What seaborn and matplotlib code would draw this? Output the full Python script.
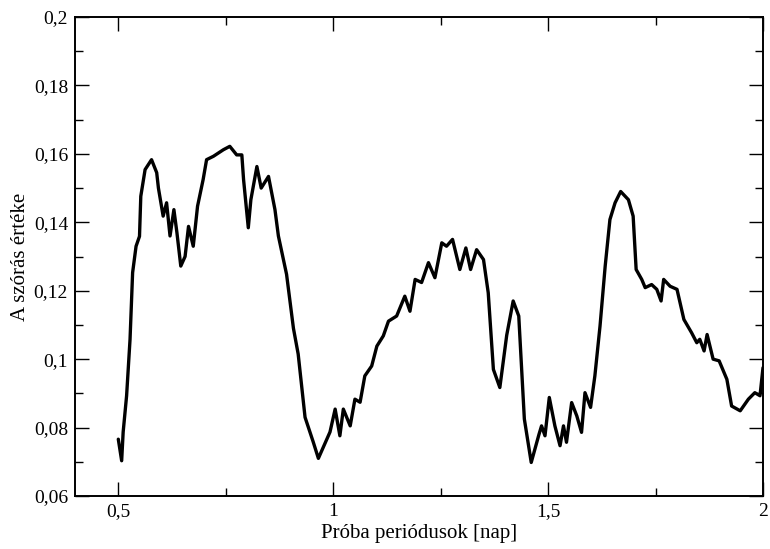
import matplotlib
matplotlib.use("Agg")
import matplotlib.pyplot as plt
import seaborn as sns
import pandas as pd
from matplotlib.ticker import MultipleLocator, FuncFormatter

# trial periods [day] and the scatter value
periods = [
    0.5007, 0.5085, 0.512, 0.520, 0.528, 0.534, 0.542, 0.550, 0.553, 0.563,
    0.578, 0.590, 0.594, 0.605, 0.613, 0.621, 0.630, 0.637, 0.646, 0.656,
    0.664, 0.675, 0.685, 0.698, 0.706, 0.722, 0.745, 0.760, 0.776, 0.788,
    0.792, 0.803, 0.809, 0.823, 0.833, 0.850, 0.865, 0.873, 0.892, 0.908,
    0.919, 0.935, 0.954, 0.966, 0.993, 1.005, 1.016, 1.024, 1.040, 1.051,
    1.063, 1.074, 1.090, 1.102, 1.117, 1.129, 1.148, 1.167, 1.179, 1.191,
    1.206, 1.222, 1.237, 1.253, 1.264, 1.278, 1.295, 1.309, 1.320, 1.334,
    1.350, 1.361, 1.373, 1.388, 1.404, 1.419, 1.432, 1.445, 1.461, 1.479,
    1.485, 1.493, 1.503, 1.516, 1.528, 1.536, 1.543, 1.555, 1.567, 1.578,
    1.586, 1.599, 1.609, 1.621, 1.633, 1.644, 1.656, 1.669, 1.687, 1.698,
    1.705, 1.718, 1.726, 1.741, 1.753, 1.763, 1.769, 1.784, 1.800, 1.816,
    1.834, 1.846, 1.853, 1.863, 1.870, 1.884, 1.898, 1.916, 1.927, 1.947,
    1.966, 1.981, 1.993, 2.000,
]
scatter = [
    0.0766, 0.0703, 0.0787, 0.0893, 0.1058, 0.1253, 0.1330, 0.1359, 0.1476, 0.1554,
    0.1583, 0.1545, 0.1500, 0.1418, 0.1457, 0.1360, 0.1437, 0.1370, 0.1272, 0.1300,
    0.1388, 0.1330, 0.1447, 0.1525, 0.1583, 0.1593, 0.1612, 0.1622, 0.1597, 0.1597,
    0.1525, 0.1384, 0.1466, 0.1563, 0.1500, 0.1534, 0.1437, 0.1360, 0.1248, 0.1090,
    0.1015, 0.0830, 0.0758, 0.0710, 0.0787, 0.0854, 0.0776, 0.0854, 0.0805, 0.0883,
    0.0874, 0.0951, 0.0980, 0.1038, 0.1068, 0.1111, 0.1126, 0.1184, 0.1140, 0.1233,
    0.1224, 0.1282, 0.1238, 0.1340, 0.1330, 0.1350, 0.1262, 0.1325, 0.1262, 0.1320,
    0.1291, 0.1194, 0.0970, 0.0917, 0.1070, 0.1170, 0.1126, 0.0825, 0.0698, 0.0780,
    0.0805, 0.0776, 0.0888, 0.0805, 0.0747, 0.0805, 0.0757, 0.0873, 0.0834, 0.0786,
    0.0902, 0.0859, 0.0951, 0.1097, 0.1272, 0.1408, 0.1457, 0.1490, 0.1466, 0.1418,
    0.1262, 0.1233, 0.1209, 0.1218, 0.1204, 0.1170, 0.1233, 0.1213, 0.1204, 0.1116,
    0.1077, 0.1048, 0.1058, 0.1024, 0.1072, 0.1000, 0.0995, 0.0941, 0.0863, 0.0849,
    0.0883, 0.0902, 0.0893, 0.0975,
]

df = pd.DataFrame({"period": periods, "scatter": scatter})

sns.set_style("ticks")
plt.rcParams["font.family"] = ["Liberation Serif", "DejaVu Serif"]
plt.rcParams["text.color"] = "black"
plt.rcParams["axes.labelcolor"] = "black"

fig = plt.figure(figsize=(7.7, 5.49), dpi=100)
ax = fig.add_axes([75 / 770, 1 - 496 / 549, (763 - 75) / 770, (496 - 17) / 549])

sns.lineplot(data=df, x="period", y="scatter", ax=ax, color="black",
             linewidth=2.4, sort=False, estimator=None)

ax.set_xlim(0.4, 2.0)
ax.set_ylim(0.06, 0.2)
ax.xaxis.set_major_locator(MultipleLocator(0.5))
ax.xaxis.set_minor_locator(MultipleLocator(0.25))
ax.yaxis.set_major_locator(MultipleLocator(0.02))
ax.yaxis.set_minor_locator(MultipleLocator(0.01))

comma = FuncFormatter(lambda v, pos: ("%g" % round(v, 4)).replace(".", ","))
ax.xaxis.set_major_formatter(comma)
ax.yaxis.set_major_formatter(comma)

ax.tick_params(which="both", direction="in", top=True, right=True,
               labelsize=14, colors="black", width=1.0)
ax.tick_params(which="major", length=10, pad=5)
ax.tick_params(which="minor", length=6)
for side in ax.spines.values():
    side.set_linewidth(1.4)
    side.set_color("black")

ax.set_xlabel("Próba periódusok [nap]", fontsize=15, labelpad=3, color="black")
ax.set_ylabel("A szórás értéke", fontsize=15, labelpad=3, color="black")

fig.savefig("out.png", dpi=100)
